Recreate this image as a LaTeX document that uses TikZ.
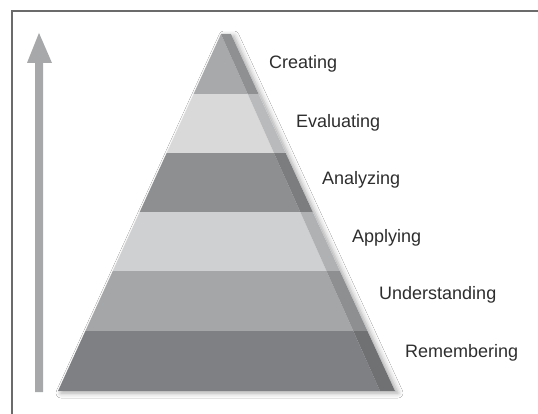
\documentclass[tikz,border=0pt]{standalone}
\usepackage{fontspec}
\setmainfont{Liberation Sans}
\usetikzlibrary{shadows.blur}
\definecolor{framec}{HTML}{6B6B6B}
\definecolor{arrowc}{HTML}{A7A8AA}
\definecolor{txtc}{HTML}{2E2E2E}
\definecolor{fA}{HTML}{A8A9AB}\definecolor{sA}{HTML}{8F9092}
\definecolor{fB}{HTML}{D9D9DA}\definecolor{sB}{HTML}{B9BABB}
\definecolor{fC}{HTML}{8E8F91}\definecolor{sC}{HTML}{7C7D7F}
\definecolor{fD}{HTML}{CFD0D1}\definecolor{sD}{HTML}{B0B1B3}
\definecolor{fE}{HTML}{A5A6A8}\definecolor{sE}{HTML}{8E8F91}
\definecolor{fF}{HTML}{7F8083}\definecolor{sF}{HTML}{707173}
\tikzset{lvl/.style={anchor=base west, inner sep=0pt, text=txtc, font=\fontsize{18}{20}\selectfont}}
\begin{document}
\begin{tikzpicture}[x=1pt,y=-1pt]
\useasboundingbox (0,0) rectangle (538,414);
\fill[white] (0,0) rectangle (538,414);
% frame
\draw[framec, line width=1.5pt] (12,414) -- (12,11) -- (538,11);
% arrow
\fill[arrowc] (35,392) -- (35,63) -- (27,63) -- (39,33) -- (52,63) -- (43,63) -- (43,392) -- cycle;
% pyramid points
\coordinate (BL) at (58,391);
\coordinate (BM) at (380,391);
\coordinate (BR) at (395,391);
\coordinate (T) at (221,34);
\coordinate (TR) at (231,34);
% shadow
\path[fill=white, blur shadow={shadow xshift=3pt, shadow yshift=-2pt, shadow blur radius=5pt, shadow opacity=35}] (BL) -- (T) -- (TR) -- (BR) -- cycle;
% front face
\begin{scope}
\clip (BL) -- (T) -- (BM) -- cycle;
\fill[fA] (0,30) rectangle (538,94);
\fill[fB] (0,94) rectangle (538,153);
\fill[fC] (0,153) rectangle (538,212);
\fill[fD] (0,212) rectangle (538,271);
\fill[fE] (0,271) rectangle (538,331);
\fill[fF] (0,331) rectangle (538,392);
\end{scope}
% side face
\begin{scope}
\clip (BM) -- (T) -- (TR) -- (BR) -- cycle;
\fill[sA] (0,30) rectangle (538,94);
\fill[sB] (0,94) rectangle (538,153);
\fill[sC] (0,153) rectangle (538,212);
\fill[sD] (0,212) rectangle (538,271);
\fill[sE] (0,271) rectangle (538,331);
\fill[sF] (0,331) rectangle (538,392);
\end{scope}
% labels
\node[lvl] (cre) at (269,69) {Creating};
\node[lvl] (eva) at (296,128) {Evaluating};
\node[lvl] (ana) at (322,185) {Analyzing};
\node[lvl] (app) at (352,242) {Applying};
\node[lvl] (und) at (379,299) {Understanding};
\node[lvl] (rem) at (405,357) {Remembering};
\end{tikzpicture}
\end{document}
